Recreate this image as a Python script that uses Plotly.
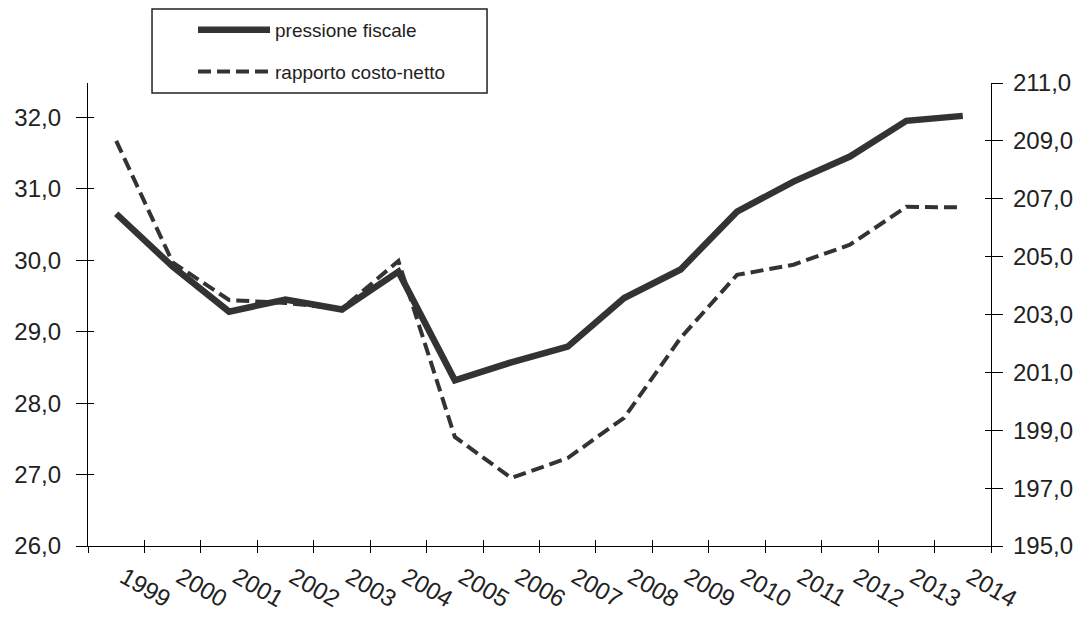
import plotly.graph_objects as go

years = [str(y) for y in range(1999, 2015)]
pressione_fiscale = [30.65, 29.91, 29.28, 29.45, 29.31, 29.84, 28.32, 28.57, 28.79,
                     29.47, 29.87, 30.68, 31.10, 31.45, 31.95, 32.02]
rapporto_costo_netto = [209.0, 204.8, 203.5, 203.4, 203.2, 204.85, 198.77, 197.35, 198.04,
                        199.43, 202.19, 204.37, 204.72, 205.41, 206.72, 206.7]
left_ticks = [26, 27, 28, 29, 30, 31, 32]
right_ticks = [195, 197, 199, 201, 203, 205, 207, 209, 211]

xpos = list(range(len(years)))
label_pos = [i + 0.14 for i in xpos]
bounds = [i - 0.5 for i in range(len(years) + 1)]
line_col = '#333333'
font_family = 'Arial, Liberation Sans, sans-serif'

fig = go.Figure()
fig.add_trace(go.Scatter(x=xpos, y=pressione_fiscale, name='pressione fiscale',
                         mode='lines', line=dict(color=line_col, width=6.5),
                         legendgroup='a'))
fig.add_trace(go.Scatter(x=xpos, y=rapporto_costo_netto, name='rapporto costo-netto',
                         mode='lines', line=dict(color=line_col, width=4, dash='13px,6px'),
                         yaxis='y2', legendgroup='b'))
# empty traces so the helper axes (inner halves of the ticks) get drawn
fig.add_trace(go.Scatter(x=[], y=[], xaxis='x2', yaxis='y3', showlegend=False))
fig.add_trace(go.Scatter(x=[], y=[], xaxis='x2', yaxis='y4', showlegend=False))

axis_font = dict(family=font_family, size=24, color='#222222')

# page body has an 8px margin, so the figure is 8px smaller than the window
fig.update_layout(
    width=1078, height=612,
    margin=dict(l=80, r=95, t=75, b=74, autoexpand=False),
    paper_bgcolor='white', plot_bgcolor='white',
    font=dict(family=font_family, color='#222222'),
    xaxis=dict(range=[-0.5, 15.5], tickmode='array', tickvals=label_pos, ticktext=years,
               tickangle=30, ticks='outside', ticklen=7, tickcolor='rgba(0,0,0,0)',
               tickfont=axis_font, showline=True, linecolor='black', linewidth=1.3,
               showgrid=False, zeroline=False,
               minor=dict(tickmode='array', tickvals=bounds, ticks='outside', ticklen=6,
                          tickcolor='black', tickwidth=1.3, showgrid=False)),
    xaxis2=dict(range=[-0.5, 15.5], overlaying='x', anchor='y3', tickmode='array',
                tickvals=bounds, ticks='inside', ticklen=6, tickcolor='black', tickwidth=1.3,
                showticklabels=False, showline=False, showgrid=False, zeroline=False),
    yaxis=dict(range=[26, 32.48], tickmode='array', tickvals=left_ticks,
               ticktext=[f'{v},0' for v in left_ticks], ticks='outside', ticklen=11,
               tickcolor='black', tickwidth=1.3, ticklabelstandoff=10, tickfont=axis_font,
               showline=True, linecolor='black', linewidth=1.3, showgrid=False,
               zeroline=False),
    yaxis2=dict(range=[195, 211], overlaying='y', side='right', tickmode='array',
                tickvals=right_ticks, ticktext=[f'{v},0' for v in right_ticks],
                ticks='outside', ticklen=11, tickcolor='black', tickwidth=1.3,
                ticklabelstandoff=5, tickfont=axis_font, showline=True, linecolor='black',
                linewidth=1.3, showgrid=False, zeroline=False),
    yaxis3=dict(range=[26, 32.48], overlaying='y', anchor='x2', side='left',
                tickmode='array', tickvals=left_ticks, ticks='inside', ticklen=6,
                tickcolor='black', tickwidth=1.3, showticklabels=False, showline=False,
                showgrid=False, zeroline=False),
    yaxis4=dict(range=[195, 211], overlaying='y', anchor='x2', side='right',
                tickmode='array', tickvals=right_ticks, ticks='inside', ticklen=6,
                tickcolor='black', tickwidth=1.3, showticklabels=False, showline=False,
                showgrid=False, zeroline=False),
    legend=dict(x=0.1163, y=1.1556, xanchor='left', yanchor='top', itemwidth=72,
                tracegroupgap=14, bgcolor='rgba(0,0,0,0)', borderwidth=0,
                font=dict(family=font_family, size=19, color='#222222')),
    shapes=[dict(type='rect', xref='paper', yref='paper', x0=0.0709, x1=0.4419,
                 y0=0.9784, y1=1.1598, line=dict(color='#222222', width=1.5),
                 fillcolor='rgba(0,0,0,0)')],
)

fig.write_html('out.html')
